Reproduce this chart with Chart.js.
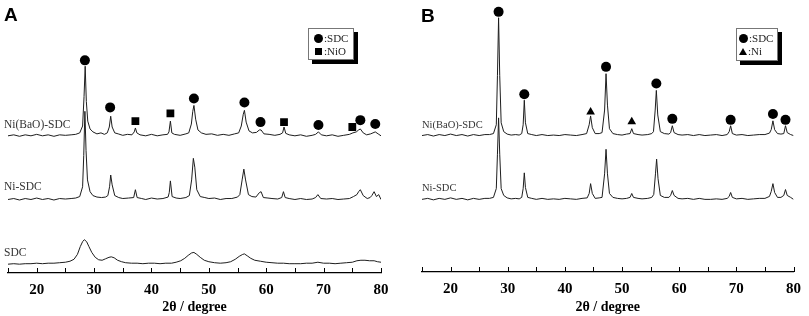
<!DOCTYPE html>
<html>
<head>
<meta charset="utf-8">
<script src="https://cdn.jsdelivr.net/npm/chart.js@4"></script>
<style>
  html,body{margin:0;padding:0;background:#fff;}
  body{width:809px;height:316px;position:relative;overflow:hidden;}
  canvas{position:absolute;top:0;}
  .lbl{position:absolute;font-family:"Liberation Serif","Times New Roman",serif;color:#333;white-space:nowrap;line-height:1;}
  .pan{position:absolute;font-family:"Liberation Sans",Arial,sans-serif;font-weight:bold;font-size:19px;line-height:1;color:#000;}
  .leg{position:absolute;background:#fff;border:1px solid #777;box-shadow:4px 4px 0 #000;font-family:"Liberation Serif","Times New Roman",serif;font-size:11px;color:#222;}
  .row{position:absolute;left:0;white-space:nowrap;line-height:1;}
  .dot{display:inline-block;width:9px;height:9px;border-radius:50%;background:#000;vertical-align:-1px;margin-right:1px;}
  .sq{display:inline-block;width:7px;height:7px;background:#000;vertical-align:0px;margin:0 2px 0 1px;}
  .tri{display:inline-block;width:0;height:0;border-left:4.5px solid transparent;border-right:4.5px solid transparent;border-bottom:7px solid #000;vertical-align:0px;margin-right:1px;}
</style>
</head>
<body>
<canvas id="cA" width="405" height="316" style="left:0;width:405px;height:316px"></canvas>
<canvas id="cB" width="404" height="316" style="left:405px;width:404px;height:316px"></canvas>

<div class="pan" style="left:4px;top:5px">A</div>
<div class="pan" style="left:421px;top:6px">B</div>

<div class="lbl" style="left:4px;top:119px;font-size:11.5px">Ni(BaO)-SDC</div>
<div class="lbl" style="left:4px;top:181px;font-size:11.5px">Ni-SDC</div>
<div class="lbl" style="left:4px;top:247px;font-size:11.5px">SDC</div>
<div class="lbl" style="left:422px;top:120px;font-size:10.5px">Ni(BaO)-SDC</div>
<div class="lbl" style="left:422px;top:183px;font-size:10.5px">Ni-SDC</div>

<div class="leg" style="left:308px;top:28px;width:44px;height:30px">
  <div class="row" style="left:5px;top:4px"><span class="dot"></span>:SDC</div>
  <div class="row" style="left:5px;top:17px"><span class="sq"></span>:NiO</div>
</div>
<div class="leg" style="left:736px;top:28px;width:40px;height:31px">
  <div class="row" style="left:2px;top:4px"><span class="dot"></span>:SDC</div>
  <div class="row" style="left:2px;top:17px"><span class="tri"></span>:Ni</div>
</div>

<script>
// ---- x axis ticks (2θ / degree) ----
const xTicks = [15,20,25,30,35,40,45,50,55,60,65,70,75,80];
const xLabels = ['', '20', '', '30', '', '40', '', '50', '', '60', '', '70', '', '80'];

// ---- Panel A traces: [2θ, intensity (a.u., offset stacked)] ----
const A_NiBaO_SDC = [[15,140],[16,141],[17,139.5],[18,141],[19,140],[20,141.5],[21,140],[22,141],[23,139.5],[24,141],[25,140.5],[26,141],[26.8,141.5],[27.5,143],[28.0,150],[28.25,180],[28.45,211],[28.65,175],[28.9,155],[29.3,147],[29.8,144],[30.5,142],[31.2,143],[31.8,141.5],[32.3,143],[32.65,149],[32.9,160],[33.15,149],[33.6,143],[34.2,142],[35,140.5],[35.8,141.5],[36.6,141],[37.0,144],[37.2,148],[37.45,143],[38,141],[39,140],[40,141.5],[41,140],[42,141],[42.8,141.5],[43.05,144],[43.3,155],[43.55,143],[44,141.5],[45,140.5],[46,142],[46.5,143],[46.95,152],[47.2,165],[47.4,171],[47.7,157],[48.1,146],[48.7,143],[49.5,141.5],[50.5,142],[51.5,140.5],[52.5,141.5],[53.5,140.5],[54.5,142],[55.2,143],[55.65,150],[56.0,162],[56.2,166],[56.5,154],[57.0,145],[57.6,143],[58.3,143.5],[58.8,146],[59.1,146],[59.6,142],[60.5,141.5],[61.5,140.5],[62.4,141.5],[62.85,143],[63.1,149],[63.4,142.5],[64,141],[65,140],[66,141],[67,139.5],[68,140.5],[68.6,141.5],[69.1,144],[69.6,141],[70.5,140],[71.5,141],[72.5,139.5],[73.5,140.5],[74.5,141.5],[75.1,143],[75.7,144],[76.1,146],[76.4,147],[76.9,143],[77.5,141],[78.2,142],[78.6,143],[79.0,144],[79.5,142],[80,140]];
const A_Ni_SDC = [[15,75],[16,76],[17,74.5],[18,76],[19,75],[20,76.5],[21,75],[22,76],[23,74.5],[24,76],[25,75.5],[26,76],[26.8,76.5],[27.5,78],[28.0,88],[28.2,120],[28.4,165],[28.6,125],[28.85,95],[29.3,83],[29.8,79],[30.5,77.5],[31.3,77],[32.0,77.5],[32.4,79],[32.7,88],[32.9,100],[33.15,90],[33.6,79],[34.3,77],[35,76],[36,76.5],[36.9,77],[37.2,85],[37.5,77],[38.3,76],[39,75],[40,76.5],[41,75.5],[42,76],[42.9,77.5],[43.1,82],[43.3,94],[43.6,78],[44.3,76.5],[45,76],[46,77],[46.6,79],[47.0,95],[47.3,117],[47.55,108],[47.9,85],[48.5,78],[49.3,77],[50,76],[51,76.5],[52,75],[53,76],[54,76],[55.0,77.5],[55.4,80],[55.8,95],[56.1,106],[56.4,95],[56.9,80],[57.5,78],[58.2,77.5],[58.8,82],[59.1,83],[59.5,77],[60.3,76.5],[61,76],[62,75.5],[62.7,77],[63.0,83],[63.3,77],[64,76],[65,75],[66,76],[67,75],[68,75.5],[68.6,77],[69.0,80],[69.5,76],[70.5,75.5],[71.5,76],[72.5,75],[73.5,75.5],[74.5,76],[75.2,78],[75.8,80],[76.1,83],[76.4,85],[76.9,79],[77.6,76],[78.1,77],[78.4,79],[78.8,83],[79.2,78],[79.6,80],[80,75]];
const A_SDC = [[15,9],[16,9.5],[17,9],[18,9.5],[19,9.5],[20,10],[21,9.5],[22,10],[23,10],[24,10.5],[25,11],[25.8,12],[26.5,14],[27.1,19],[27.6,27],[28.0,32],[28.3,34],[28.7,32],[29.1,27],[29.6,21],[30.2,16],[30.8,13.5],[31.4,13],[32.0,14.5],[32.6,16],[33.0,16.5],[33.5,15.5],[34.1,13],[34.8,11.5],[35.5,10.5],[36.5,10],[37.5,10],[38.5,9.5],[39.5,10],[40.5,10],[41.5,9.5],[42.5,10],[43.5,10],[44.3,11],[45.1,12.5],[45.8,15],[46.4,18],[47.0,20.5],[47.4,21],[47.9,19],[48.5,16],[49.2,13],[50,11.5],[51,10.5],[52,10],[53,10.5],[53.8,11.5],[54.6,14],[55.3,17],[55.9,19],[56.2,19.5],[56.7,17.5],[57.3,15],[58,13],[59,12],[60,11],[61,10.5],[62,10],[63,10],[64,9.5],[65,9.5],[66,9.5],[67,10],[68,10],[69,11],[70,10],[71,10],[72,9.5],[73,10],[74,10.5],[75,11],[75.8,12.5],[76.5,13],[77.2,13],[78,12.5],[78.8,12.5],[79.4,11.5],[80,11]];

// ---- Panel B traces ----
const B_NiBaO_SDC = [[15,139],[16,140],[17,138.5],[18,140],[19,139],[20,140.5],[21,139],[22,140],[23,138.5],[24,140],[25,139],[26,140],[26.8,140],[27.5,141],[28.0,150],[28.2,200],[28.4,259],[28.6,200],[28.85,152],[29.3,143],[29.9,140.5],[30.6,139.5],[31.4,140],[32.0,139.5],[32.45,141],[32.7,150],[32.9,175],[33.1,152],[33.5,141],[34.2,140],[35,139],[36,140],[37,139],[38,139.5],[39,139],[40,140],[41,139.5],[42,139],[43,140],[43.8,141],[44.25,150],[44.5,159],[44.8,147],[45.3,141],[46,141],[46.5,142],[46.95,165],[47.2,202],[47.45,170],[47.8,146],[48.4,141],[49.2,140],[50,139.5],[50.8,140.5],[51.4,141],[51.7,146],[52.0,141],[52.8,140],[53.5,139.5],[54.5,140],[55.2,141],[55.5,143],[55.8,165],[56.0,185],[56.25,160],[56.7,143],[57.4,141],[58.2,140.5],[58.5,142],[58.8,149],[59.1,142],[59.8,140],[60.5,139.5],[61.5,140],[62.5,139],[63.5,140],[64.5,139],[65.5,139.5],[66.5,140],[67.5,139],[68.4,140],[68.75,143],[69.0,149],[69.3,141],[70,139.5],[71,140],[72,139],[73,139.5],[74,140],[75,140],[75.8,141.5],[76.1,145],[76.4,154],[76.7,145],[77.2,141],[77.8,140.5],[78.3,141],[78.6,149],[78.9,142],[79.5,140],[80,139]];
const B_Ni_SDC = [[15,74],[16,75],[17,73.5],[18,75],[19,74],[20,75.5],[21,74],[22,75],[23,73.5],[24,75],[25,74],[26,75],[26.8,75],[27.5,76],[28.0,85],[28.2,120],[28.4,157],[28.6,120],[28.85,85],[29.3,78],[29.9,75.5],[30.6,74.5],[31.4,75],[32.0,74.5],[32.45,76],[32.7,85],[32.9,101],[33.1,86],[33.5,76],[34.2,75],[35,74],[36,75],[37,74],[38,74.5],[39,74],[40,75],[41,74.5],[42,74],[43,75],[43.9,75.5],[44.25,80],[44.5,90],[44.8,80],[45.3,75],[46,75.5],[46.5,76],[46.95,100],[47.2,125],[47.45,100],[47.8,80],[48.4,76],[49.2,75],[50,74.5],[50.8,75],[51.4,76],[51.7,80],[52.0,76],[52.8,75],[53.5,74.5],[54.5,75],[55.2,76],[55.55,79],[55.85,100],[56.05,115],[56.3,95],[56.7,78],[57.4,76],[58.2,76],[58.5,78],[58.8,83],[59.1,78],[59.8,75],[60.5,74.5],[61.5,75],[62.5,74],[63.5,75],[64.5,74],[65.5,74],[66.5,74.5],[67.5,74],[68.4,75],[68.75,77],[69.0,81],[69.3,76],[70,74.5],[71,75],[72,74],[73,74.5],[74,75],[75,75],[75.8,77],[76.1,82],[76.4,90],[76.7,81],[77.2,76],[77.8,76],[78.3,78],[78.6,84],[78.9,78],[79.5,76],[80,74]];

// ---- Phase markers [2θ, height] ----
const A_circles = [[28.4,217],[32.8,169],[47.4,178],[56.2,174],[59.0,154],[69.1,151],[76.4,156],[79.0,152]];
const A_squares = [[37.2,155],[43.3,163],[63.1,154],[75.0,149]];
const B_circles = [[28.4,265],[32.9,181],[47.2,209],[56.0,192],[58.8,156],[69.0,155],[76.4,161],[78.6,155]];
const B_triangles = [[44.5,163],[51.7,153]];

const lineColor = '#1e1e1e';

const inwardTicks = {
  id: 'inwardTicks',
  afterDraw(chart) {
    const s = chart.scales.x, ctx = chart.ctx;
    ctx.save();
    ctx.strokeStyle = '#000';
    ctx.lineWidth = 1;
    ctx.beginPath();
    s.ticks.forEach((t, i) => {
      const px = Math.round(s.getPixelForTick(i)) + 0.5;
      ctx.moveTo(px, s.top);
      ctx.lineTo(px, s.top - 5);
    });
    ctx.stroke();
    ctx.restore();
  }
};

function traceDS(data) {
  return { type: 'line', data, borderColor: lineColor, borderWidth: 1, pointRadius: 0, tension: 0, fill: false, order: 2 };
}
function markDS(data, style, r) {
  return { type: 'scatter', data, pointStyle: style, pointRadius: r, pointHoverRadius: r, backgroundColor: '#000', borderColor: '#000', borderWidth: 0, showLine: false, order: 1 };
}

function makeChart(id, datasets, yMax, axisHeight, padL, padR) {
  return new Chart(document.getElementById(id), {
    type: 'line',
    data: { datasets },
    options: {
      responsive: false, animation: false, devicePixelRatio: 1,
      events: [],
      layout: { padding: { left: padL, right: padR, top: 0, bottom: 0 } },
      plugins: { legend: { display: false }, tooltip: { enabled: false } },
      scales: {
        x: {
          type: 'linear', min: 15, max: 80,
          afterBuildTicks(scale) { scale.ticks = xTicks.map(v => ({ value: v })); },
          afterFit(scale) { scale.height = axisHeight; },
          grid: { display: true, drawOnChartArea: false, drawTicks: false },
          border: { display: true, color: '#000', width: 1.2 },
          ticks: {
            padding: 8, color: '#000', autoSkip: false, maxRotation: 0,
            font: { family: '"Liberation Serif","Times New Roman",serif', size: 15, weight: 'bold' },
            callback(v) { const i = xTicks.indexOf(v); return i >= 0 ? xLabels[i] : ''; }
          },
          title: {
            display: true, text: '2θ / degree', color: '#000',
            padding: { top: 0, bottom: 0 },
            font: { family: '"Liberation Serif","Times New Roman",serif', size: 14, weight: 'bold' }
          }
        },
        y: { display: false, min: 0, max: yMax }
      }
    },
    plugins: [inwardTicks]
  });
}

makeChart('cA', [
  traceDS(A_NiBaO_SDC), traceDS(A_Ni_SDC), traceDS(A_SDC),
  markDS(A_circles, 'circle', 5), markDS(A_squares, 'rect', 5.5)
], 273, 43, 4, 24);

makeChart('cB', [
  traceDS(B_NiBaO_SDC), traceDS(B_Ni_SDC),
  markDS(B_circles, 'circle', 5), markDS(B_triangles, 'triangle', 5)
], 272, 44, 17, 10);
</script>
</body>
</html>
